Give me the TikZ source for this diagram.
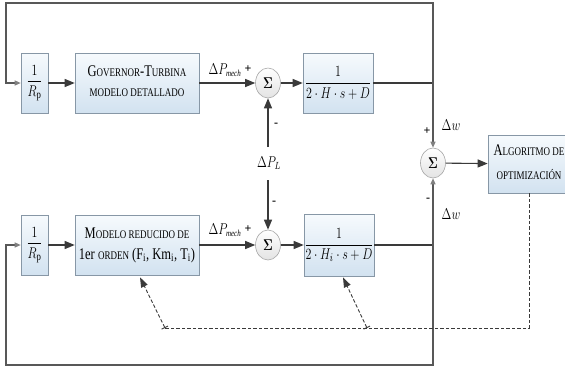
\documentclass[tikz,border=0pt]{standalone}
\usepackage{amsmath}
\usepackage{graphicx}
\usepackage{fontspec}
\setmainfont{Liberation Serif}
\usetikzlibrary{arrows.meta,shapes.geometric,calc}
\newcommand{\sck}[1]{{\fontsize{9}{11}\selectfont #1}}
\newcommand{\bgc}[1]{{\fontsize{12.5}{14}\selectfont #1}}
\newcommand{\tall}[1]{\scalebox{1}[1.3]{#1}}
\newcommand{\tlines}[1]{\tall{\begin{tabular}{@{}c@{}}#1\end{tabular}}}
\newcommand{\mech}{\text{\fontsize{7}{7}\selectfont\itshape mech}}
\definecolor{boxtop}{HTML}{F6FAFD}
\definecolor{boxbot}{HTML}{D2E2F0}
\definecolor{boxline}{HTML}{8797A6}
\definecolor{wire}{HTML}{3A3A3A}
\begin{document}
\begin{tikzpicture}[x=1pt,y=-1pt,
  blk/.style={draw=boxline,line width=0.6pt,top color=boxtop,bottom color=boxbot,
    rectangle,inner sep=0pt,align=center,font=\fontsize{12.5}{14}\selectfont},
  sumn/.style={draw=gray!70,line width=0.6pt,ellipse,top color=white,bottom color=gray!22,
    minimum width=25pt,minimum height=30pt,inner sep=0pt,font=\fontsize{13}{13}\selectfont},
  wireline/.style={draw=wire,line width=1.1pt},
  fwd/.style={wireline,-{Triangle[length=10pt,width=8pt]}},
  fbk/.style={draw=wire!85,line width=1.1pt,-{Triangle[length=6pt,width=5pt,fill=gray,color=gray]}},
  dsh/.style={draw=wire,line width=0.9pt,dash pattern=on 3.5pt off 2pt},
  dsharr/.style={dsh,{Bar[width=7pt,line width=0.9pt]}-{Triangle[length=10pt,width=7pt]}},
  lbl/.style={inner sep=0pt,font=\fontsize{12}{12}\selectfont},
  sgn/.style={inner sep=0pt,font=\fontsize{12}{12}\selectfont\bfseries}
]
\useasboundingbox (0,0) rectangle (565,367);
% blocks
\node[blk,minimum width=27pt,minimum height=60pt] (rp1) at (34.5,83) {\tall{$\dfrac{1}{R_{\mathrm{p}}}$}};
\node[blk,minimum width=124pt,minimum height=60pt] (gov) at (137,83) {\tlines{\bgc{G}\sck{OVERNOR}-\bgc{T}\sck{URBINA}\\[1.5pt]\sck{MODELO DETALLADO}}};
\node[sumn] (s1) at (268,83) {\tall{$\boldsymbol{\Sigma}$}};
\node[blk,minimum width=70pt,minimum height=60pt] (tf1) at (338,83) {\tall{$\dfrac{1}{2\cdot H\cdot s+D}$}};
\node[sumn] (s2) at (433,163) {\tall{$\boldsymbol{\Sigma}$}};
\node[blk,minimum width=82pt,minimum height=58pt] (alg) at (529,164) {\tlines{\bgc{A}\sck{LGORITMO DE}\\[4pt]\sck{OPTIMIZACIÓN}}};
\node[blk,minimum width=27pt,minimum height=60pt] (rp2) at (34.5,245) {\tall{$\dfrac{1}{R_{\mathrm{p}}}$}};
\node[blk,minimum width=124pt,minimum height=60pt] (mod) at (137,245) {\tlines{\bgc{M}\sck{ODELO REDUCIDO DE}\\[2pt]1er \sck{ORDEN} (F$_{\mathrm{i}}$, Km$_{\mathrm{i}}$, T$_{\mathrm{i}}$)}};
\node[sumn] (s3) at (268,245) {\tall{$\boldsymbol{\Sigma}$}};
\node[blk,minimum width=70pt,minimum height=62pt] (tf2) at (339,245) {\tall{$\dfrac{1}{2\cdot H_i\cdot s+D}$}};
% labels
\node[lbl] (pm1) at (225,70) {\tall{$\Delta P_{\mech}$}};
\node[sgn] (pp1) at (248,69) {+};
\node[sgn] (mn1) at (276,125) {-};
\node[lbl] (pl) at (269,163) {\tall{$\Delta P_{L}$}};
\node[sgn] (mn3) at (274,203) {-};
\node[lbl] (pm2) at (225,230) {\tall{$\Delta P_{\mech}$}};
\node[sgn] (pp2) at (248,229) {+};
\node[sgn] (pp3) at (427,131) {+};
\node[lbl] (dw1) at (451,125) {\tall{$\Delta w$}};
\node[sgn] (mn2) at (428,200) {-};
\node[lbl] (dw2) at (451,214) {\tall{$\Delta w$}};
% coordinates
\coordinate (j1) at (433,83);
\coordinate (j2) at (433,245);
\coordinate (c1) at (433,3);
\coordinate (c2) at (6,3);
\coordinate (c3) at (6,83);
\coordinate (c4) at (433,365);
\coordinate (c5) at (6,365);
\coordinate (c6) at (6,245);
\coordinate (pl1) at (268,147);
\coordinate (pl2) at (268,180);
\coordinate (d2) at (165,328);
\coordinate (d3) at (367,328);
% forward
\draw[fwd] (rp1) -- (gov);
\draw[fwd] (gov) -- (s1);
\draw[fwd] (s1) -- (tf1);
\draw[fwd] (rp2) -- (mod);
\draw[fwd] (mod) -- (s3);
\draw[fwd] (s3) -- (tf2);
\draw[fwd] (s2) -- (alg);
\draw[fwd] (pl1) -- (s1);
\draw[fwd] (pl2) -- (s3);
% outputs and feedback
\draw[wireline] (tf1) -- (j1);
\draw[wireline] (tf2) -- (j2);
\draw[fbk] (j1) -- (s2);
\draw[fbk] (j2) -- (s2);
\draw[fbk] (j1) -- (c1) -- (c2) -- (c3) -- (rp1);
\draw[fbk] (j2) -- (c4) -- (c5) -- (c6) -- (rp2);
% dashed
\draw[dsh] (alg.south) -- (alg.south |- d2) -- (d2);
\draw[dsharr] (d2) -- ([xshift=3pt,yshift=-2pt]mod.south);
\draw[dsharr] (d3) -- ([xshift=4pt,yshift=-1pt]tf2.south);
\end{tikzpicture}
\end{document}
